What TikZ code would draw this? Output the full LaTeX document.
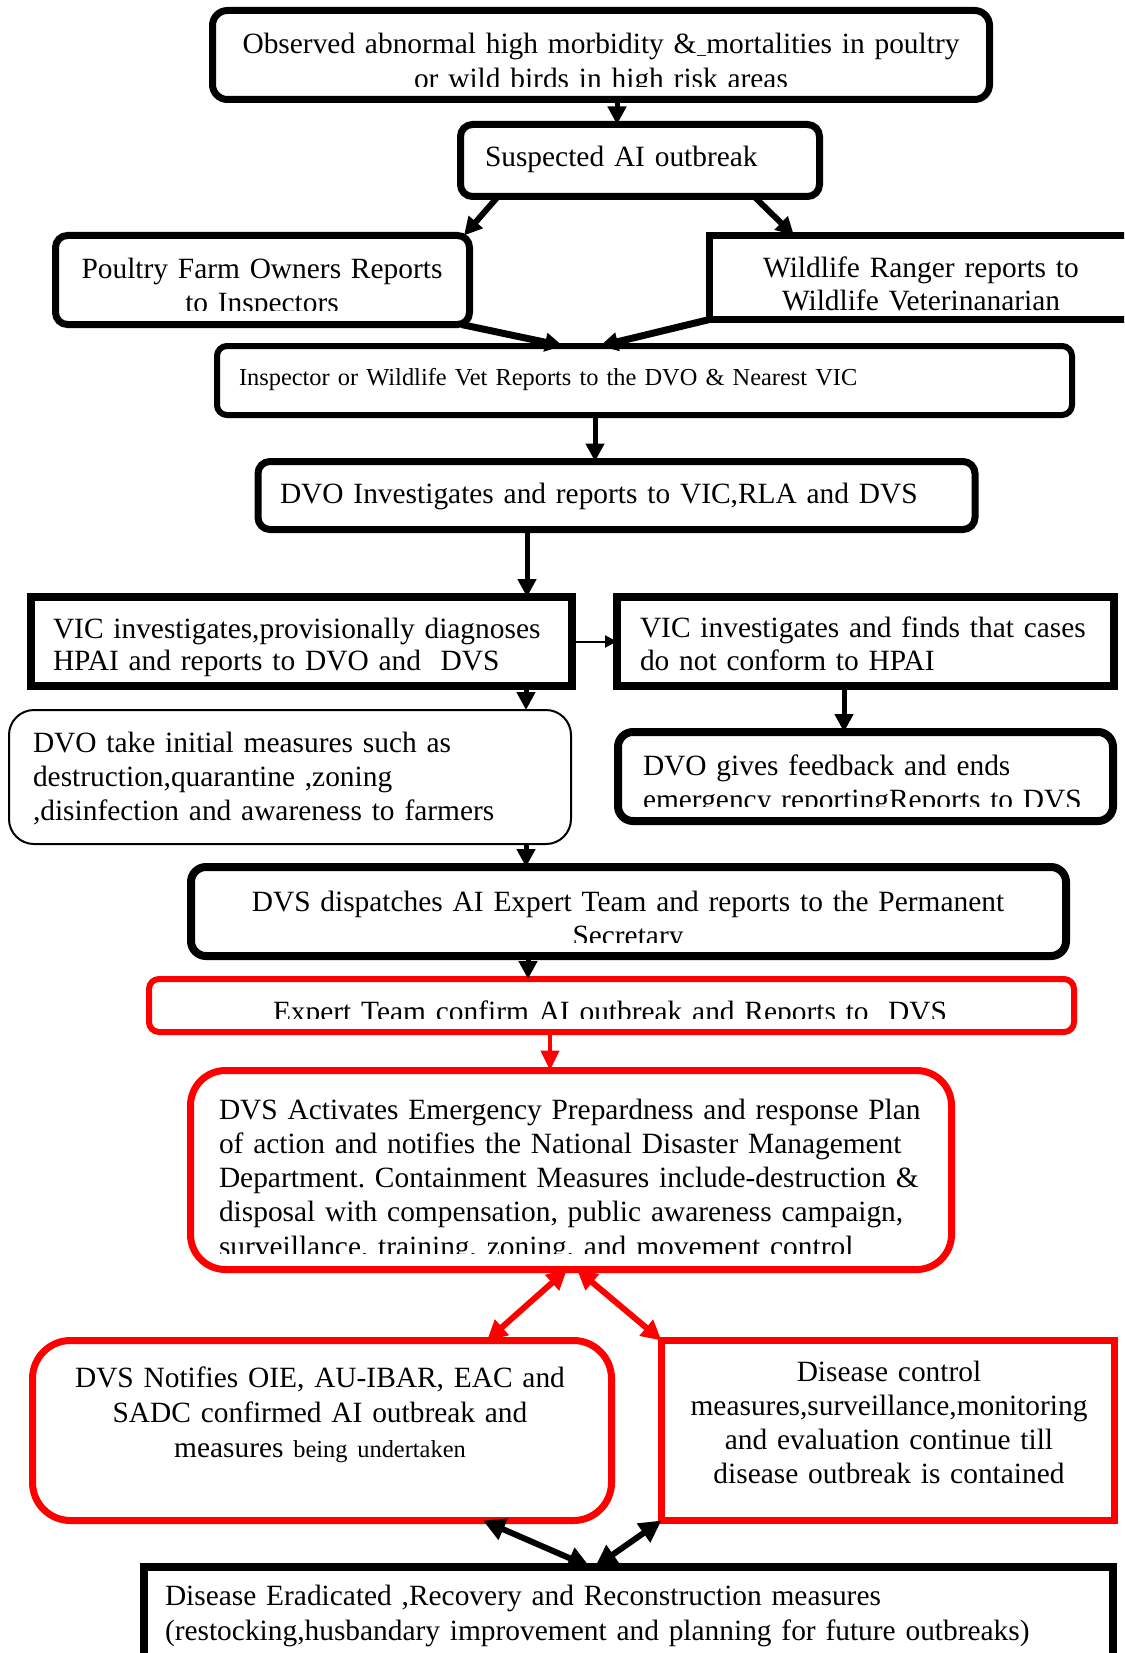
\documentclass[tikz,border=0pt]{standalone}
\usepackage{fontspec}
\setmainfont{Liberation Serif}
\usetikzlibrary{arrows.meta,calc}
\tikzset{
  bx/.style={draw, fill=white, inner sep=0pt, outer sep=0pt, line width=7pt, rectangle},
  blk/.style={bx, draw=black},
  redb/.style={bx, draw=red},
  txt/.style={inner sep=0pt, outer sep=0pt, font=\fontsize{29.4}{34.3}\selectfont\frenchspacing, text width=#1},
  arrK/.style={draw=black, line width=5pt, -{Triangle[length=18pt,width=18pt]}},
  arrKK/.style={draw=black, line width=6pt, {Triangle[length=22pt,width=22pt]}-{Triangle[length=22pt,width=22pt]}},
  arrR/.style={draw=red, line width=4pt, -{Triangle[length=20pt,width=18pt]}},
  arrRR/.style={draw=red, line width=6pt, {Triangle[length=20pt,width=20pt]}-{Triangle[length=20pt,width=20pt]}},
  arrThin/.style={draw=black, line width=2pt, -{Triangle[length=12pt,width=12pt]}}
}
\begin{document}
\begin{tikzpicture}[x=1pt,y=-1pt]
\useasboundingbox[fill=white] (0,0) rectangle (1124,1653);
\clip (0,0) rectangle (1124,1653);

% ---------- boxes ----------
\node[blk, rounded corners=15pt, minimum width=777pt, minimum height=89pt] (b1) at (601,55) {};
\node[blk, rounded corners=12pt, minimum width=359pt, minimum height=72pt] (b2) at (640,160.5) {};
\node[blk, rounded corners=12pt, minimum width=414pt, minimum height=89pt] (b3) at (262.5,280) {};
\node[blk, minimum width=430.5pt, minimum height=84pt] (b4) at (924.75,277.5) {};
\node[blk, line width=6pt, rounded corners=10pt, minimum width=855pt, minimum height=69pt] (b5) at (644.5,380.5) {};
\node[blk, rounded corners=12pt, minimum width=717pt, minimum height=68pt] (b6) at (616.5,495.5) {};
\node[blk, line width=8pt, minimum width=541pt, minimum height=89pt] (b7) at (301.5,641.5) {};
\node[blk, line width=8pt, minimum width=497pt, minimum height=89pt] (b8) at (865.5,641.5) {};
\node[blk, line width=2pt, rounded corners=25pt, minimum width=562pt, minimum height=134pt] (b9) at (290,777) {};
\node[blk, line width=8pt, rounded corners=15pt, minimum width=495pt, minimum height=89pt] (b10) at (865.5,776.5) {};
\node[blk, line width=8pt, rounded corners=15pt, minimum width=875pt, minimum height=89pt] (b11) at (628.5,911.5) {};
\node[redb, line width=6pt, rounded corners=10pt, minimum width=925pt, minimum height=53pt] (b12) at (611.5,1005.5) {};
\node[redb, rounded corners=35pt, minimum width=761pt, minimum height=199pt] (b13) at (571,1170) {};
\node[redb, rounded corners=38pt, minimum width=579pt, minimum height=180pt] (b14) at (322,1430.5) {};
\node[redb, minimum width=453pt, minimum height=180pt] (b15) at (888,1430.5) {};
\node[blk, line width=8pt, minimum width=969pt, minimum height=133pt] (b16) at (628.5,1633.5) {};

% ---------- texts ----------
\begin{scope}
  \clip (b1.north west) rectangle (989.5,87);
  \node[txt=800, align=center, anchor=base] (t1) at (601,54)
    {Observed abnormal high morbidity \&{\color{blue}\underline{\ }}mortalities in poultry\\or wild birds in high risk areas};
\end{scope}
\node[txt=330, align=left, anchor=base west] (t2) at (485,167) {Suspected AI outbreak};
\begin{scope}
  \clip (b3.north west) rectangle (469.5,310);
  \node[txt=400, align=center, anchor=base] (t3) at (262,278) {Poultry Farm Owners Reports\\to Inspectors};
\end{scope}
\node[txt=410, align=center, anchor=base, font=\fontsize{29.4}{33}\selectfont] (t4) at (921,277) {Wildlife Ranger reports to\\Wildlife Veterinanarian};
\node[txt=820, align=left, anchor=base west, font=\fontsize{24.4}{28}\selectfont] (t5) at (239,385) {Inspector or Wildlife Vet Reports to the DVO \& Nearest VIC};
\node[txt=690, align=left, anchor=base west] (t6) at (280,503) {DVO Investigates and reports to VIC,RLA and DVS};
\node[txt=515, align=left, anchor=base west, font=\fontsize{29.4}{32.5}\selectfont] (t7) at (53,638) {VIC investigates,provisionally diagnoses\\HPAI and reports to DVO and\ \ DVS};
\node[txt=470, align=left, anchor=base west, font=\fontsize{29.4}{33.5}\selectfont] (t8) at (640,637) {VIC investigates and finds that cases\\do not conform to HPAI};
\node[txt=530, align=left, anchor=base west, font=\fontsize{29.4}{34}\selectfont] (t9) at (33,752) {DVO take initial measures such as\\destruction,quarantine ,zoning\\,disinfection and awareness to farmers};
\begin{scope}
  \clip (b10.north west) rectangle (1113,806);
  \node[txt=465, align=left, anchor=base west] (t10) at (643,775) {DVO gives feedback and ends\\emergency reportingReports to DVS};
\end{scope}
\begin{scope}
  \clip (b11.north west) rectangle (1066,942);
  \node[txt=850, align=center, anchor=base] (t11) at (628,911) {DVS dispatches AI Expert Team and reports to the Permanent\\Secretary};
\end{scope}
\begin{scope}
  \clip (b12.north west) rectangle (1074,1018);
  \node[txt=900, align=center, anchor=base] (t12) at (610,1021) {Expert Team confirm AI outbreak and Reports to\ \ DVS};
\end{scope}
\begin{scope}
  \clip (b13.north west) rectangle (951.5,1253);
  \node[txt=720, align=left, anchor=base west] (t13) at (219,1119) {DVS Activates Emergency Prepardness and response Plan\\of action and notifies the National Disaster Management\\Department. Containment Measures include-destruction \&\\disposal with compensation, public awareness campaign,\\surveillance, training, zoning, and movement control};
\end{scope}
\node[txt=560, align=center, anchor=base, font=\fontsize{29.4}{35}\selectfont] (t14) at (320,1387) {DVS Notifies OIE, AU-IBAR, EAC and\\SADC confirmed AI outbreak and\\measures {\fontsize{24.4}{28}\selectfont being undertaken}};
\node[txt=440, align=center, anchor=base] (t15) at (889,1381) {Disease control\\measures,surveillance,monitoring\\and evaluation continue till\\disease outbreak is contained};
\node[txt=950, align=left, anchor=base west, font=\fontsize{29.4}{35}\selectfont] (t16) at (165,1605) {Disease Eradicated ,Recovery and Reconstruction measures\\(restocking,husbandary improvement and planning for future outbreaks)};

% ---------- connectors ----------
\draw[arrK] ($(b1.south west)+(404.5,0)$) -- ($(b2.north west)+(156.5,0)$);
\draw[arrK, line width=6pt] ($(b2.south west)+(37.5,0)$) -- ($(b3.north west)+(408.5,0)$);
\draw[arrK, line width=6pt] ($(b2.south west)+(293.5,0)$) -- ($(b4.north west)+(84.5,0)$);
\draw[arrK, line width=7pt] ($(b3.south east)+(-8,0)$) -- ($(b5.north west)+(346,0)$);
\draw[arrK, line width=7pt] (b4.south west) -- ($(b5.north west)+(383,0)$);
\draw[arrK] ($(b5.south west)+(378,0)$) -- ($(b6.north west)+(337,0)$);
\draw[arrK] ($(b6.south west)+(269,0)$) -- ($(b7.north west)+(496,0)$);
\draw[arrThin] (b7.east) -- (b8.west);
\draw[arrK] ($(b7.south west)+(495,0)$) -- ($(b9.north west)+(517,0)$);
\draw[arrK] ($(b8.south west)+(227,0)$) -- ($(b10.north west)+(226,0)$);
\draw[arrK] ($(b9.south west)+(517,0)$) -- ($(b11.north west)+(335,0)$);
\draw[arrK] ($(b11.south west)+(337,0)$) -- ($(b12.north west)+(379,0)$);
\draw[arrR] ($(b12.south west)+(401,0)$) -- ($(b13.north west)+(359.5,0)$);
\draw[arrRR] ($(b13.south west)+(376.5,0)$) -- ($(b14.north west)+(454.5,0)$);
\draw[arrRR] ($(b13.south west)+(386.5,0)$) -- (b15.north west);
\draw[arrKK] ($(b14.south west)+(450.5,0)$) -- ($(b16.north west)+(446,0)$);
\draw[arrKK] (b15.south west) -- ($(b16.north west)+(451,0)$);
\end{tikzpicture}
\end{document}
